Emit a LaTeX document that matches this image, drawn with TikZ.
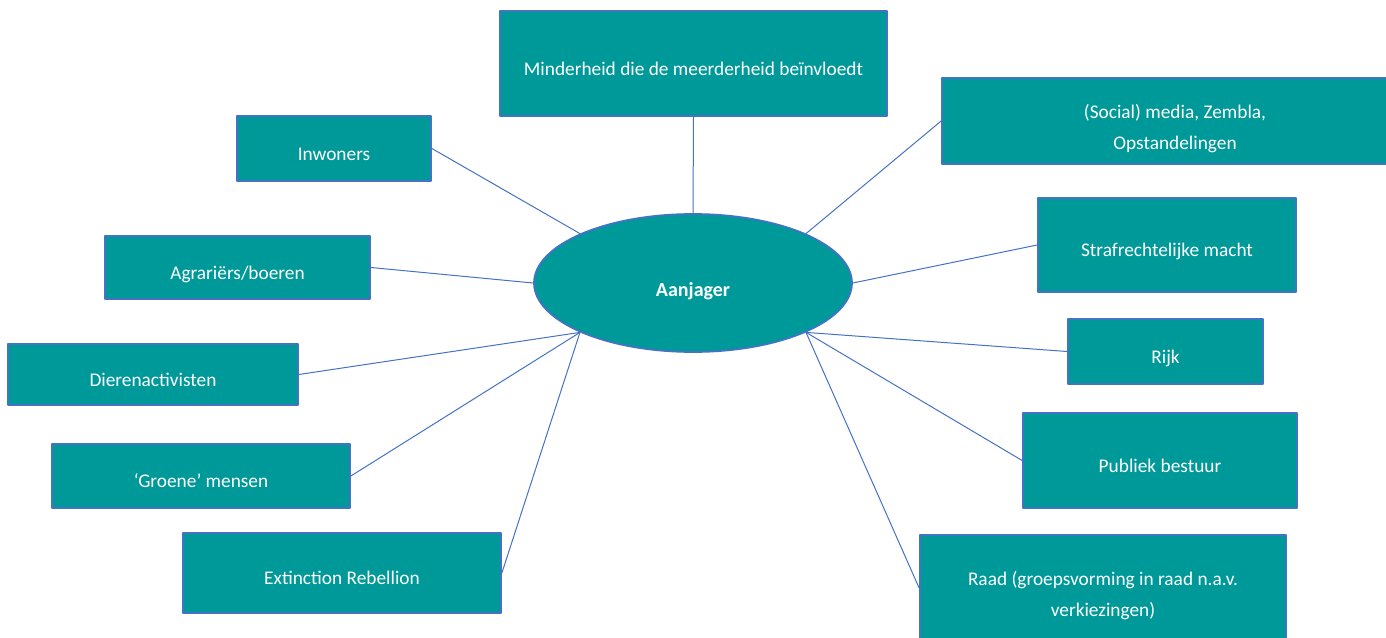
\documentclass[tikz,border=0pt]{standalone}
\usepackage{fontspec}
\setmainfont{Carlito}
\usetikzlibrary{shapes.geometric}
\definecolor{tealfill}{RGB}{0,153,153}
\definecolor{edgeblue}{RGB}{68,114,196}

\begin{document}
\begin{tikzpicture}[line cap=round,line join=round,x=0.75pt,y=-0.75pt,
    box/.style={draw=edgeblue,line width=1.3pt,fill=tealfill,text=white,inner sep=0pt,
        font=\fontsize{14.5}{23.5}\selectfont,text height=20.5pt,text depth=3pt},
    twoline/.style={align=center,text height=46pt,text depth=3pt},
    wh/.style 2 args={minimum width=#1*0.75pt,minimum height=#2*0.75pt},
    hubnode/.style={ellipse,draw=edgeblue,line width=1.3pt,fill=tealfill,text=white,inner sep=0pt,
        font=\fontsize{15}{18}\selectfont\bfseries,text height=22.6pt,text depth=3pt,
        minimum width=238.5pt,minimum height=103.5pt},
    link/.style={draw=edgeblue,line width=0.75pt}]
                \useasboundingbox (0,0) rectangle (1386,638);
                % centre
                \node[hubnode] (hub) at (693,283) {Aanjager};
                % left and top
                \node[box,wh={387}{105}] (minder) at (693.5,63.5) {Minderheid die de meerderheid beïnvloedt};
                \node[box,wh={194}{65}] (inwoners) at (334,148.5) {Inwoners};
                \node[box,wh={265}{63}] (agrariers) at (237.5,267.5) {Agrariërs/boeren};
                \node[box,wh={290}{61}] (dieren) at (153,374.5) {Dierenactivisten};
                \node[box,wh={298}{64}] (groene) at (201,476) {‘Groene’ mensen};
                \node[box,wh={318}{80}] (extinction) at (342,573) {Extinction Rebellion};
                % right
                \node[box,twoline,wh={466}{86}] (media) at (1175,121) {(Social) media, Zembla,\\Opstandelingen};
                \node[box,wh={258}{94}] (straf) at (1167,245) {Strafrechtelijke macht};
                \node[box,wh={195}{65}] (rijk) at (1165.5,351.5) {Rijk};
                \node[box,wh={274}{95}] (bestuur) at (1160,460.5) {Publiek bestuur};
                \node[box,twoline,wh={366}{106}] (raad) at (1103,588) {Raad (groepsvorming in raad n.a.v.\\verkiezingen)};
                % connectors
                \foreach \from/\to in {minder.south/hub.north,inwoners.east/hub.north west,
                    agrariers.east/hub.west,dieren.east/hub.south west,groene.east/hub.south west,
                    extinction.east/hub.south west,media.west/hub.north east,straf.west/hub.east,
                    rijk.west/hub.south east,bestuur.west/hub.south east,raad.west/hub.south east}
                    \draw[link] (\from) -- (\to);
            \end{tikzpicture}
\end{document}
